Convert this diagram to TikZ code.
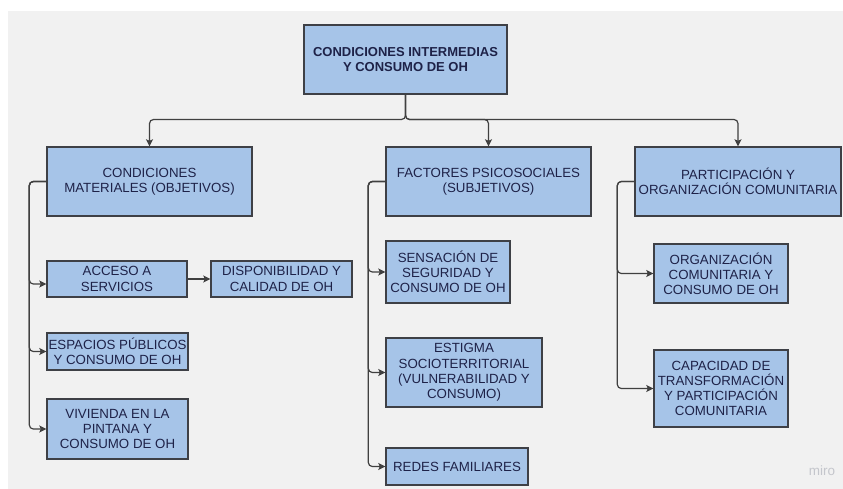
\documentclass[tikz,border=0pt]{standalone}
\usepackage{fontspec}
\setmainfont{Liberation Sans}
\usetikzlibrary{arrows.meta}
\definecolor{canvas}{RGB}{241,241,241}
\definecolor{boxfill}{RGB}{166,196,232}
\definecolor{boxline}{RGB}{62,64,70}
\definecolor{ink}{RGB}{30,34,72}
\definecolor{wire}{RGB}{64,64,64}
\definecolor{mark}{RGB}{196,198,204}
\tikzset{
  box/.style={draw=boxline, line width=1.4pt, fill=boxfill, text=ink,
    align=center, inner sep=0pt, font=\fontsize{13.3}{15.2}\selectfont},
  headbox/.style={box, font=\fontsize{13}{15.2}\selectfont\bfseries},
  conn/.style={draw=wire, line width=1.2pt, rounded corners=4pt,
    -{Stealth[length=7pt,width=7pt,inset=1.5pt]}},
}
\begin{document}
\begin{tikzpicture}[x=1pt,y=-1pt]
  \useasboundingbox (0,0) rectangle (843,489);
  \fill[white] (0,0) rectangle (843,489);
  \fill[canvas] (8,11) rectangle (843,489);

  % root
  \node[headbox, minimum width=203pt, minimum height=69pt] (root) at (405.5,59.5)
    {CONDICIONES INTERMEDIAS\\Y CONSUMO DE OH};

  % second level
  \node[box, minimum width=205pt, minimum height=69pt] (mat) at (149.5,181.5)
    {CONDICIONES\\MATERIALES (OBJETIVOS)};
  \node[box, minimum width=205pt, minimum height=69pt] (psi) at (488.5,181.5)
    {FACTORES PSICOSOCIALES\\(SUBJETIVOS)};
  \node[box, minimum width=206pt, minimum height=69pt] (par) at (738,181.5)
    {PARTICIPACIÓN Y\\ORGANIZACIÓN COMUNITARIA};

  % material conditions
  \node[box, minimum width=140pt, minimum height=36pt] (acc) at (117,279)
    {ACCESO A\\SERVICIOS};
  \node[box, minimum width=141pt, minimum height=36pt] (dis) at (281.5,279)
    {DISPONIBILIDAD Y\\CALIDAD DE OH};
  \node[box, minimum width=141pt, minimum height=37pt] (esp) at (117.5,351.5)
    {ESPACIOS PÚBLICOS\\Y CONSUMO DE OH};
  \node[box, minimum width=141pt, minimum height=60pt] (viv) at (117.5,429)
    {VIVIENDA EN LA\\PINTANA Y\\CONSUMO DE OH};

  % psychosocial factors
  \node[box, minimum width=124pt, minimum height=62pt] (sen) at (448,272)
    {SENSACIÓN DE\\SEGURIDAD Y\\CONSUMO DE OH};
  \node[box, minimum width=156pt, minimum height=69pt] (est) at (464,372.5)
    {ESTIGMA\\SOCIOTERRITORIAL\\(VULNERABILIDAD Y\\CONSUMO)};
  \node[box, minimum width=142pt, minimum height=37pt] (red) at (457,466.5)
    {REDES FAMILIARES};

  % community participation
  \node[box, minimum width=134pt, minimum height=59pt] (org) at (721,273.5)
    {ORGANIZACIÓN\\COMUNITARIA Y\\CONSUMO DE OH};
  \node[box, minimum width=134pt, minimum height=77pt] (cap) at (721,388.5)
    {CAPACIDAD DE\\TRANSFORMACIÓN\\Y PARTICIPACIÓN\\COMUNITARIA};

  % root to second level
  \coordinate (bus) at (405.5,119.5);
  \draw[conn] (root.south) -- (bus) -| (mat.north);
  \draw[conn] (root.south) -- (bus) -| (psi.north);
  \draw[conn] (root.south) -- (bus) -| (par.north);

  % branches
  \draw[conn] (mat.west) -- ++(-17,0) |- ([yshift=-5pt]acc.west);
  \draw[conn] (mat.west) -- ++(-17,0) |- (esp.west);
  \draw[conn] (mat.west) -- ++(-17,0) |- (viv.west);
  \draw[conn] (acc.east) -- (dis.west);

  \draw[conn] (psi.west) -- ++(-17,0) |- (sen.west);
  \draw[conn] (psi.west) -- ++(-17,0) |- (est.west);
  \draw[conn] (psi.west) -- ++(-17,0) |- (red.west);

  \draw[conn] (par.west) -- ++(-17,0) |- (org.west);
  \draw[conn] (par.west) -- ++(-17,0) |- (cap.west);

  % watermark
  \node[text=mark, font=\fontsize{13.5}{14}\selectfont, inner sep=0pt] (wm) at (822,471) {miro};
\end{tikzpicture}
\end{document}
